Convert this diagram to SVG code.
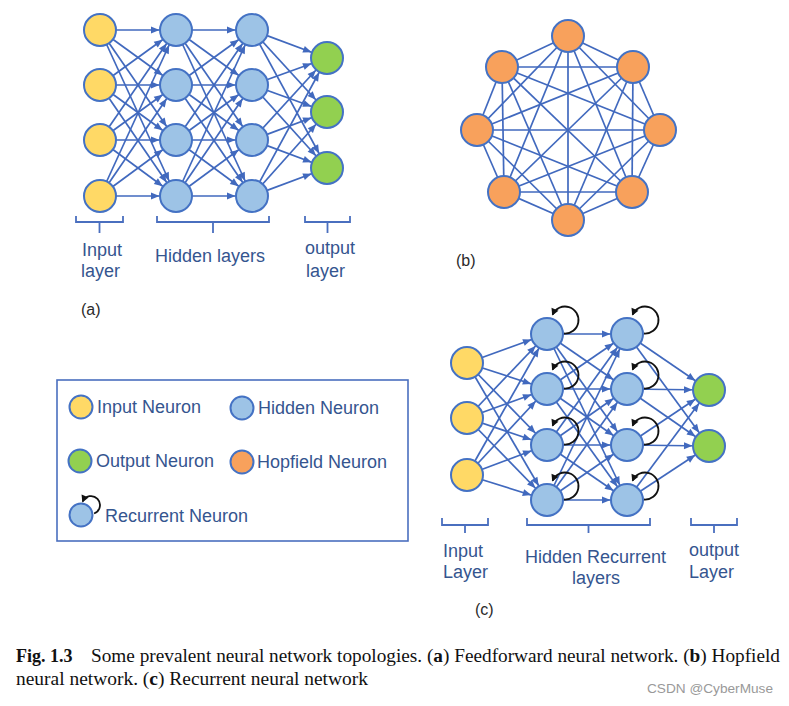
<svg xmlns="http://www.w3.org/2000/svg" width="789" height="706" viewBox="0 0 789 706">
<defs>
<style>
.e{stroke:#4169BE;stroke-width:1.7;fill:none}
.ea{stroke:#4169BE;stroke-width:1.7;fill:none;marker-end:url(#ah)}
.lp{stroke:#111;stroke-width:1.8;fill:none;marker-end:url(#lh)}
.br{stroke:#4a6fbf;stroke-width:1.8;fill:none}
.n{stroke:#4472C4;stroke-width:2}
.in{fill:#FFD966}
.hd{fill:#9DC3E6}
.out{fill:#92D050}
.hop{fill:#F8A15C}
.t{font-family:"Liberation Sans",Arial,sans-serif;font-size:18px;fill:#35558f}
.lab{font-family:"Liberation Sans",Arial,sans-serif;font-size:16px;fill:#2a2a2a}
.cap{font-family:"Liberation Serif","Times New Roman",serif;font-size:18px;fill:#111}
</style>
<marker id="ah" markerUnits="userSpaceOnUse" markerWidth="10" markerHeight="10" refX="25" refY="0" orient="auto" overflow="visible"><path d="M0,-3.5 L8.5,0 L0,3.5 z" fill="#4169BE"/></marker>
<marker id="lh" markerUnits="userSpaceOnUse" markerWidth="10" markerHeight="10" refX="6" refY="0" orient="auto" overflow="visible"><path d="M0,-3.8 L7,0 L0,3.8 z" fill="#111"/></marker>
</defs>
<rect width="789" height="706" fill="#fff"/>

<g id="connectors">
<!-- (a) input -> hidden1 -->
<line class="ea" x1="100" y1="30" x2="176" y2="30"/><line class="ea" x1="100" y1="30" x2="176" y2="85"/><line class="ea" x1="100" y1="30" x2="176" y2="140"/><line class="ea" x1="100" y1="30" x2="176" y2="196"/>
<line class="ea" x1="100" y1="85" x2="176" y2="30"/><line class="ea" x1="100" y1="85" x2="176" y2="85"/><line class="ea" x1="100" y1="85" x2="176" y2="140"/><line class="ea" x1="100" y1="85" x2="176" y2="196"/>
<line class="ea" x1="100" y1="140" x2="176" y2="30"/><line class="ea" x1="100" y1="140" x2="176" y2="85"/><line class="ea" x1="100" y1="140" x2="176" y2="140"/><line class="ea" x1="100" y1="140" x2="176" y2="196"/>
<line class="ea" x1="100" y1="196" x2="176" y2="30"/><line class="ea" x1="100" y1="196" x2="176" y2="85"/><line class="ea" x1="100" y1="196" x2="176" y2="140"/><line class="ea" x1="100" y1="196" x2="176" y2="196"/>
<!-- (a) hidden1 -> hidden2 -->
<line class="ea" x1="176" y1="30" x2="252" y2="30"/><line class="ea" x1="176" y1="30" x2="252" y2="85"/><line class="ea" x1="176" y1="30" x2="252" y2="140"/><line class="ea" x1="176" y1="30" x2="252" y2="196"/>
<line class="ea" x1="176" y1="85" x2="252" y2="30"/><line class="ea" x1="176" y1="85" x2="252" y2="85"/><line class="ea" x1="176" y1="85" x2="252" y2="140"/><line class="ea" x1="176" y1="85" x2="252" y2="196"/>
<line class="ea" x1="176" y1="140" x2="252" y2="30"/><line class="ea" x1="176" y1="140" x2="252" y2="85"/><line class="ea" x1="176" y1="140" x2="252" y2="140"/><line class="ea" x1="176" y1="140" x2="252" y2="196"/>
<line class="ea" x1="176" y1="196" x2="252" y2="30"/><line class="ea" x1="176" y1="196" x2="252" y2="85"/><line class="ea" x1="176" y1="196" x2="252" y2="140"/><line class="ea" x1="176" y1="196" x2="252" y2="196"/>
<!-- (a) hidden2 -> output -->
<line class="ea" x1="252" y1="30" x2="327" y2="58"/><line class="ea" x1="252" y1="30" x2="327" y2="112"/><line class="ea" x1="252" y1="30" x2="327" y2="168"/>
<line class="ea" x1="252" y1="85" x2="327" y2="58"/><line class="ea" x1="252" y1="85" x2="327" y2="112"/><line class="ea" x1="252" y1="85" x2="327" y2="168"/>
<line class="ea" x1="252" y1="140" x2="327" y2="58"/><line class="ea" x1="252" y1="140" x2="327" y2="112"/><line class="ea" x1="252" y1="140" x2="327" y2="168"/>
<line class="ea" x1="252" y1="196" x2="327" y2="58"/><line class="ea" x1="252" y1="196" x2="327" y2="112"/><line class="ea" x1="252" y1="196" x2="327" y2="168"/>

<!-- (b) Hopfield complete graph -->
<line class="e" x1="568" y1="36" x2="633" y2="67"/><line class="e" x1="568" y1="36" x2="660" y2="130"/><line class="e" x1="568" y1="36" x2="632" y2="192"/><line class="e" x1="568" y1="36" x2="568" y2="220"/><line class="e" x1="568" y1="36" x2="504" y2="192"/><line class="e" x1="568" y1="36" x2="477" y2="130"/><line class="e" x1="568" y1="36" x2="502" y2="67"/>
<line class="e" x1="633" y1="67" x2="660" y2="130"/><line class="e" x1="633" y1="67" x2="632" y2="192"/><line class="e" x1="633" y1="67" x2="568" y2="220"/><line class="e" x1="633" y1="67" x2="504" y2="192"/><line class="e" x1="633" y1="67" x2="477" y2="130"/><line class="e" x1="633" y1="67" x2="502" y2="67"/>
<line class="e" x1="660" y1="130" x2="632" y2="192"/><line class="e" x1="660" y1="130" x2="568" y2="220"/><line class="e" x1="660" y1="130" x2="504" y2="192"/><line class="e" x1="660" y1="130" x2="477" y2="130"/><line class="e" x1="660" y1="130" x2="502" y2="67"/>
<line class="e" x1="632" y1="192" x2="568" y2="220"/><line class="e" x1="632" y1="192" x2="504" y2="192"/><line class="e" x1="632" y1="192" x2="477" y2="130"/><line class="e" x1="632" y1="192" x2="502" y2="67"/>
<line class="e" x1="568" y1="220" x2="504" y2="192"/><line class="e" x1="568" y1="220" x2="477" y2="130"/><line class="e" x1="568" y1="220" x2="502" y2="67"/>
<line class="e" x1="504" y1="192" x2="477" y2="130"/><line class="e" x1="504" y1="192" x2="502" y2="67"/>
<line class="e" x1="477" y1="130" x2="502" y2="67"/>

<!-- (c) input -> hidden1 -->
<line class="ea" x1="467" y1="363" x2="547" y2="334"/><line class="ea" x1="467" y1="363" x2="547" y2="389"/><line class="ea" x1="467" y1="363" x2="547" y2="445"/><line class="ea" x1="467" y1="363" x2="547" y2="500"/>
<line class="ea" x1="467" y1="418" x2="547" y2="334"/><line class="ea" x1="467" y1="418" x2="547" y2="389"/><line class="ea" x1="467" y1="418" x2="547" y2="445"/><line class="ea" x1="467" y1="418" x2="547" y2="500"/>
<line class="ea" x1="467" y1="475" x2="547" y2="334"/><line class="ea" x1="467" y1="475" x2="547" y2="389"/><line class="ea" x1="467" y1="475" x2="547" y2="445"/><line class="ea" x1="467" y1="475" x2="547" y2="500"/>
<!-- (c) hidden1 -> hidden2 -->
<line class="ea" x1="547" y1="334" x2="627" y2="334"/><line class="ea" x1="547" y1="334" x2="627" y2="389"/><line class="ea" x1="547" y1="334" x2="627" y2="445"/><line class="ea" x1="547" y1="334" x2="627" y2="500"/>
<line class="ea" x1="547" y1="389" x2="627" y2="334"/><line class="ea" x1="547" y1="389" x2="627" y2="389"/><line class="ea" x1="547" y1="389" x2="627" y2="445"/><line class="ea" x1="547" y1="389" x2="627" y2="500"/>
<line class="ea" x1="547" y1="445" x2="627" y2="334"/><line class="ea" x1="547" y1="445" x2="627" y2="389"/><line class="ea" x1="547" y1="445" x2="627" y2="445"/><line class="ea" x1="547" y1="445" x2="627" y2="500"/>
<line class="ea" x1="547" y1="500" x2="627" y2="334"/><line class="ea" x1="547" y1="500" x2="627" y2="389"/><line class="ea" x1="547" y1="500" x2="627" y2="445"/><line class="ea" x1="547" y1="500" x2="627" y2="500"/>
<!-- (c) hidden2 -> output -->
<line class="ea" x1="627" y1="334" x2="709" y2="390"/><line class="ea" x1="627" y1="334" x2="709" y2="446"/>
<line class="ea" x1="627" y1="389" x2="709" y2="390"/><line class="ea" x1="627" y1="389" x2="709" y2="446"/>
<line class="ea" x1="627" y1="445" x2="709" y2="390"/><line class="ea" x1="627" y1="445" x2="709" y2="446"/>
<line class="ea" x1="627" y1="500" x2="709" y2="390"/><line class="ea" x1="627" y1="500" x2="709" y2="446"/>
</g>

<!-- (a) nodes -->
<g id="a-input-1"><circle class="n in" cx="100" cy="30" r="16"/></g>
<g id="a-input-2"><circle class="n in" cx="100" cy="85" r="16"/></g>
<g id="a-input-3"><circle class="n in" cx="100" cy="140" r="16"/></g>
<g id="a-input-4"><circle class="n in" cx="100" cy="196" r="16"/></g>
<g id="a-h1-1"><circle class="n hd" cx="176" cy="30" r="16"/></g>
<g id="a-h1-2"><circle class="n hd" cx="176" cy="85" r="16"/></g>
<g id="a-h1-3"><circle class="n hd" cx="176" cy="140" r="16"/></g>
<g id="a-h1-4"><circle class="n hd" cx="176" cy="196" r="16"/></g>
<g id="a-h2-1"><circle class="n hd" cx="252" cy="30" r="16"/></g>
<g id="a-h2-2"><circle class="n hd" cx="252" cy="85" r="16"/></g>
<g id="a-h2-3"><circle class="n hd" cx="252" cy="140" r="16"/></g>
<g id="a-h2-4"><circle class="n hd" cx="252" cy="196" r="16"/></g>
<g id="a-out-1"><circle class="n out" cx="327" cy="58" r="16"/></g>
<g id="a-out-2"><circle class="n out" cx="327" cy="112" r="16"/></g>
<g id="a-out-3"><circle class="n out" cx="327" cy="168" r="16"/></g>

<g id="a-labels">
<path class="br" d="M76,216 V222 H123 V216 M99.5,222 V233"/>
<path class="br" d="M157,216 V222 H269 V216 M213,222 V233"/>
<path class="br" d="M305,216 V222 H350 V216 M327.5,222 V233"/>
<text class="t" x="82" y="256">Input</text>
<text class="t" x="81" y="277">layer</text>
<text class="t" x="155" y="262">Hidden layers</text>
<text class="t" x="305" y="254">output</text>
<text class="t" x="306" y="277">layer</text>
<text class="lab" x="81" y="315">(a)</text>
</g>

<!-- (b) nodes -->
<g id="b-1"><circle class="n hop" cx="568" cy="36" r="16"/></g>
<g id="b-2"><circle class="n hop" cx="633" cy="67" r="16"/></g>
<g id="b-3"><circle class="n hop" cx="660" cy="130" r="16"/></g>
<g id="b-4"><circle class="n hop" cx="632" cy="192" r="16"/></g>
<g id="b-5"><circle class="n hop" cx="568" cy="220" r="16"/></g>
<g id="b-6"><circle class="n hop" cx="504" cy="192" r="16"/></g>
<g id="b-7"><circle class="n hop" cx="477" cy="130" r="16"/></g>
<g id="b-8"><circle class="n hop" cx="502" cy="67" r="16"/></g>
<text class="lab" x="456" y="266">(b)</text>

<!-- legend -->
<g id="legend">
<rect x="57" y="380" width="351" height="161" fill="none" stroke="#4a6fbf" stroke-width="1.6"/>
<circle class="n in" cx="81" cy="407" r="11.5" stroke-width="1.8"/>
<text class="t" x="97" y="413">Input Neuron</text>
<circle class="n hd" cx="242" cy="408" r="11.5" stroke-width="1.8"/>
<text class="t" x="258" y="414">Hidden Neuron</text>
<circle class="n out" cx="80" cy="461" r="11.5" stroke-width="1.8"/>
<text class="t" x="96" y="467">Output Neuron</text>
<circle class="n hop" cx="242" cy="462" r="11.5" stroke-width="1.8"/>
<text class="t" x="257" y="468">Hopfield Neuron</text>
<circle class="n hd" cx="81" cy="515" r="11.5" stroke-width="1.8"/>
<path class="lp" d="M94.1,513.5 A9,9 0 1 0 82.7,501.5"/>
<text class="t" x="105" y="522">Recurrent Neuron</text>
</g>

<!-- (c) nodes -->
<g id="c-input-1"><circle class="n in" cx="467" cy="363" r="16"/></g>
<g id="c-input-2"><circle class="n in" cx="467" cy="418" r="16"/></g>
<g id="c-input-3"><circle class="n in" cx="467" cy="475" r="16"/></g>
<g id="c-h1-1"><circle class="n hd" cx="547" cy="334" r="16"/><path class="lp" d="M564,333.5 A13.5,13.5 0 1 0 552.6,314.7"/></g>
<g id="c-h1-2"><circle class="n hd" cx="547" cy="389" r="16"/><path class="lp" d="M564,388.5 A13.5,13.5 0 1 0 552.6,369.7"/></g>
<g id="c-h1-3"><circle class="n hd" cx="547" cy="445" r="16"/><path class="lp" d="M564,444.5 A13.5,13.5 0 1 0 552.6,425.7"/></g>
<g id="c-h1-4"><circle class="n hd" cx="547" cy="500" r="16"/><path class="lp" d="M564,499.5 A13.5,13.5 0 1 0 552.6,480.7"/></g>
<g id="c-h2-1"><circle class="n hd" cx="627" cy="334" r="16"/><path class="lp" d="M644,333.5 A13.5,13.5 0 1 0 632.6,314.7"/></g>
<g id="c-h2-2"><circle class="n hd" cx="627" cy="389" r="16"/><path class="lp" d="M644,388.5 A13.5,13.5 0 1 0 632.6,369.7"/></g>
<g id="c-h2-3"><circle class="n hd" cx="627" cy="445" r="16"/><path class="lp" d="M644,444.5 A13.5,13.5 0 1 0 632.6,425.7"/></g>
<g id="c-h2-4"><circle class="n hd" cx="627" cy="500" r="16"/><path class="lp" d="M644,499.5 A13.5,13.5 0 1 0 632.6,480.7"/></g>
<g id="c-out-1"><circle class="n out" cx="709" cy="390" r="16"/></g>
<g id="c-out-2"><circle class="n out" cx="709" cy="446" r="16"/></g>

<g id="c-labels">
<path class="br" d="M442,518 V525 H488 V518 M465,525 V533"/>
<path class="br" d="M527,518 V525 H650 V518 M588.5,525 V533"/>
<path class="br" d="M691,518 V525 H737 V518 M714,525 V533"/>
<text class="t" x="443" y="557">Input</text>
<text class="t" x="443" y="578">Layer</text>
<text class="t" x="525" y="563">Hidden Recurrent</text>
<text class="t" x="572" y="584">layers</text>
<text class="t" x="689" y="556">output</text>
<text class="t" x="689" y="578">Layer</text>
<text class="lab" x="475" y="615">(c)</text>
</g>

<g id="caption">
<text class="cap" x="16" y="662" font-weight="bold">Fig. 1.3</text>
<text class="cap" x="91" y="662" textLength="689" lengthAdjust="spacingAndGlyphs">Some prevalent neural network topologies. (<tspan font-weight="bold">a</tspan>) Feedforward neural network. (<tspan font-weight="bold">b</tspan>) Hopfield</text>
<text class="cap" x="16" y="685" textLength="352" lengthAdjust="spacingAndGlyphs">neural network. (<tspan font-weight="bold">c</tspan>) Recurrent neural network</text>
<text x="647" y="693" font-family="'Liberation Sans',Arial,sans-serif" font-size="13" fill="#999" textLength="126" lengthAdjust="spacingAndGlyphs">CSDN @CyberMuse</text>
</g>
</svg>
